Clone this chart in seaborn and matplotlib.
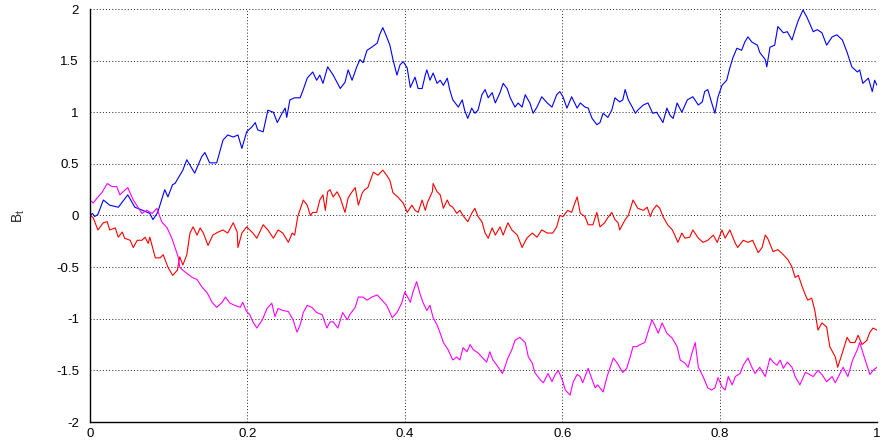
import matplotlib
matplotlib.use("Agg")
import matplotlib.pyplot as plt
import seaborn as sns
import pandas as pd

# ---- data ----
t_blue = [0, .003, .006, .010, .017, .025, .036, .048, .057, .067, .076, .080, .086, .095, .099, .105, .108,
          .118, .123, .133, .142, .146, .152, .161, .169, .175, .182, .188, .193, .199, .206, .210, .213, .220,
          .226, .233, .238, .244, .248, .250, .254, .260, .267, .271, .276, .283, .288, .292, .296, .302, .309,
          .318, .324, .328, .333, .339, .343, .347, .352, .358, .365, .368, .372, .377, .381, .385, .390, .394,
          .398, .403, .407, .413, .417, .422, .426, .428, .432, .436, .441, .445, .449, .454, .457, .461, .468,
          .473, .476, .480, .485, .489, .493, .498, .502, .506, .511, .515, .521, .525, .530, .534, .540, .544,
          .549, .553, .559, .563, .568, .574, .581, .587, .593, .597, .601, .606, .612, .619, .623, .629, .633,
          .638, .644, .648, .652, .658, .663, .667, .673, .677, .680, .684, .689, .693, .696, .703, .709, .715,
          .720, .724, .728, .733, .737, .741, .746, .752, .759, .766, .773, .778, .781, .785, .790, .794, .798,
          .803, .809, .813, .817, .822, .828, .832, .836, .841, .848, .851, .858, .860, .864, .870, .874, .881,
          .886, .892, .896, .900, .906, .911, .919, .924, .930, .936, .943, .949, .956, .962, .968, .975, .978,
          .982, .989, .994, .997, 1.0]
b_blue = [0.00, .02, -.01, .01, .15, .10, .08, .20, .08, .05, .02, -.04, .03, .25, .18, .30, .31,
          .44, .54, .41, .57, .61, .51, .51, .73, .78, .76, .78, .65, .81, .86, .90, .83, .81,
          1.02, 1.00, .90, .99, 1.04, .95, 1.12, 1.14, 1.14, 1.22, 1.33, 1.39, 1.31, 1.36, 1.28, 1.44, 1.36,
          1.23, 1.29, 1.41, 1.31, 1.44, 1.51, 1.48, 1.60, 1.63, 1.67, 1.75, 1.82, 1.73, 1.65, 1.51, 1.36, 1.46,
          1.49, 1.43, 1.24, 1.34, 1.23, 1.23, 1.36, 1.41, 1.31, 1.38, 1.28, 1.31, 1.26, 1.33, 1.22, 1.12, 1.05,
          1.12, 1.02, .94, 1.04, .99, 1.02, 1.17, 1.22, 1.14, 1.19, 1.09, 1.19, 1.28, 1.23, 1.14, 1.05, 1.09,
          1.05, 1.17, 1.09, .99, 1.05, 1.15, 1.09, 1.05, 1.17, 1.20, 1.15, 1.04, 1.15, 1.04, 1.09, 1.05, 1.04,
          .94, .88, .90, .99, .95, 1.02, 1.14, 1.10, 1.12, 1.22, 1.12, 1.05, .99, 1.02, 1.07, 1.09, .99,
          1.00, .95, .90, 1.04, .97, .94, 1.09, 1.00, 1.12, 1.15, 1.07, 1.10, 1.20, 1.22, 1.09, .99, 1.15,
          1.26, 1.31, 1.43, 1.53, 1.62, 1.60, 1.68, 1.73, 1.68, 1.65, 1.58, 1.51, 1.44, 1.63, 1.65, 1.83, 1.77,
          1.78, 1.70, 1.80, 1.89, 1.99, 1.92, 1.78, 1.80, 1.77, 1.65, 1.73, 1.75, 1.70, 1.58, 1.44, 1.39, 1.41,
          1.28, 1.33, 1.20, 1.31, 1.26]

t_red = [0, .004, .010, .017, .022, .025, .032, .036, .041, .044, .051, .055, .060, .066, .070, .074, .076,
         .083, .089, .093, .099, .105, .111, .114, .118, .123, .127, .131, .136, .140, .144, .150, .156, .163,
         .169, .175, .182, .187, .188, .193, .199, .203, .207, .212, .220, .226, .233, .239, .245, .252, .257,
         .260, .264, .271, .276, .280, .283, .288, .292, .296, .299, .302, .305, .309, .314, .318, .324, .328,
         .333, .337, .341, .346, .349, .353, .360, .366, .372, .377, .381, .385, .391, .398, .403, .409, .413,
         .417, .422, .426, .429, .435, .436, .441, .445, .449, .454, .457, .461, .466, .470, .474, .480, .485,
         .489, .493, .498, .502, .506, .511, .515, .521, .525, .531, .536, .543, .549, .555, .562, .568, .574,
         .581, .588, .593, .597, .601, .607, .612, .616, .619, .623, .629, .633, .639, .644, .648, .654, .658,
         .663, .667, .671, .673, .680, .684, .690, .696, .703, .708, .712, .715, .720, .724, .728, .734, .740,
         .743, .747, .752, .756, .762, .766, .773, .779, .785, .792, .797, .803, .807, .813, .820, .823, .830,
         .836, .842, .849, .854, .858, .861, .868, .874, .881, .887, .892, .896, .900, .905, .909, .912, .917,
         .921, .925, .930, .936, .940, .947, .950, .956, .962, .966, .972, .976, .981, .987, .991, .995, 1.0]
b_red = [0.00, -.02, -.14, -.07, -.06, -.14, -.12, -.21, -.16, -.22, -.24, -.31, -.24, -.24, -.21, -.27, -.21,
         -.41, -.41, -.38, -.50, -.58, -.53, -.40, -.48, -.38, -.17, -.11, -.19, -.12, -.17, -.29, -.19, -.16,
         -.14, -.17, -.07, -.16, -.31, -.17, -.11, -.14, -.17, -.22, -.09, -.14, -.22, -.14, -.17, -.26, -.17,
         -.19, -.01, .15, .10, .00, .03, .03, .15, .20, .05, .23, .25, .18, .23, .17, .03, .17,
         .23, .27, .10, .22, .25, .27, .42, .39, .44, .39, .34, .22, .18, .12, .03, .10, .05,
         .03, .15, .05, .13, .23, .31, .23, .20, .07, .15, .10, .08, .02, .05, .00, -.06, .02,
         .07, -.01, -.06, -.17, -.22, -.12, -.19, -.11, -.19, -.07, -.14, -.19, -.31, -.22, -.17, -.21, -.14,
         -.17, -.17, -.11, .00, -.01, .05, .03, .12, .18, .02, -.01, -.09, -.09, .03, -.11, -.07, -.02,
         .03, -.04, -.07, -.14, -.04, .00, .15, .07, .05, .08, -.01, .05, .10, .07, -.01, -.09, -.14,
         -.19, -.26, -.17, -.22, -.21, -.14, -.22, -.26, -.24, -.19, -.26, -.14, -.22, -.14, -.27, -.31, -.24,
         -.26, -.24, -.36, -.31, -.19, -.22, -.35, -.33, -.38, -.43, -.50, -.60, -.58, -.69, -.77, -.82, -.80,
         -.92, -1.11, -1.04, -1.08, -1.27, -1.37, -1.47, -1.33, -1.18, -1.23, -1.23, -1.16, -1.25, -1.21, -1.13, -1.09, -1.11]

t_mag = [0, .004, .009, .015, .022, .028, .034, .038, .042, .048, .055, .061, .066, .072, .079, .085, .091,
         .098, .104, .108, .112, .114, .118, .123, .130, .136, .142, .149, .155, .161, .168, .172, .178, .184,
         .191, .194, .199, .203, .207, .212, .219, .225, .231, .235, .239, .245, .252, .258, .263, .267, .271,
         .276, .282, .288, .295, .301, .305, .309, .315, .321, .327, .330, .337, .341, .347, .352, .358, .365,
         .371, .377, .384, .390, .396, .400, .407, .410, .415, .419, .423, .428, .432, .436, .441, .445, .449,
         .455, .461, .466, .470, .474, .479, .483, .487, .493, .499, .504, .508, .512, .517, .524, .527, .531,
         .536, .540, .546, .553, .557, .562, .565, .572, .576, .582, .587, .591, .595, .600, .604, .610, .614,
         .619, .623, .626, .633, .638, .642, .645, .652, .657, .661, .665, .670, .673, .677, .682, .686, .690,
         .695, .699, .705, .709, .714, .718, .722, .727, .733, .740, .746, .750, .756, .760, .765, .769, .773,
         .779, .785, .790, .794, .798, .803, .807, .811, .816, .820, .826, .830, .836, .841, .845, .851, .858,
         .864, .868, .873, .877, .881, .886, .892, .896, .902, .909, .912, .919, .925, .930, .936, .943, .947,
         .953, .957, .963, .969, .975, .978, .985, .991, .995, 1.0]
b_mag = [.15, .12, .17, .22, .31, .28, .28, .20, .23, .27, .15, .08, .02, .05, .02, .07, -.06,
         -.12, -.22, -.31, -.40, -.50, -.53, -.56, -.60, -.62, -.69, -.75, -.84, -.89, -.84, -.79, -.85, -.87,
         -.89, -.84, -.93, -.96, -1.03, -1.09, -1.01, -.90, -.85, -.98, -.90, -.92, -.93, -1.01, -1.13, -1.06, -.94,
         -.87, -.89, -.94, -.96, -1.09, -1.03, -1.03, -1.09, -.94, -1.01, -.96, -.89, -.79, -.79, -.82, -.79, -.77,
         -.82, -.87, -.99, -.94, -.85, -.74, -.84, -.75, -.64, -.75, -.84, -.92, -.87, -.99, -1.06, -1.14, -1.23,
         -1.30, -1.40, -1.37, -1.40, -1.28, -1.32, -1.25, -1.30, -1.33, -1.38, -1.42, -1.32, -1.40, -1.45, -1.53, -1.47, -1.38,
         -1.30, -1.21, -1.18, -1.23, -1.37, -1.43, -1.52, -1.59, -1.62, -1.53, -1.61, -1.54, -1.50, -1.59, -1.69, -1.74, -1.61,
         -1.54, -1.56, -1.62, -1.48, -1.59, -1.67, -1.64, -1.71, -1.56, -1.47, -1.38, -1.43, -1.47, -1.52, -1.48, -1.38, -1.27,
         -1.27, -1.25, -1.23, -1.13, -1.01, -1.07, -1.14, -1.04, -1.14, -1.19, -1.27, -1.40, -1.43, -1.47, -1.33, -1.23, -1.47,
         -1.56, -1.67, -1.69, -1.67, -1.57, -1.66, -1.69, -1.56, -1.64, -1.56, -1.53, -1.45, -1.38, -1.47, -1.53, -1.47, -1.56,
         -1.38, -1.42, -1.45, -1.40, -1.48, -1.42, -1.47, -1.56, -1.64, -1.52, -1.53, -1.56, -1.50, -1.54, -1.61, -1.56, -1.62,
         -1.53, -1.47, -1.56, -1.40, -1.30, -1.23, -1.40, -1.54, -1.50, -1.47]

x_ticks = [0, 0.2, 0.4, 0.6, 0.8, 1.0]
x_tick_labels = ["0", "0.2", "0.4", "0.6", "0.8", "1"]
y_ticks = [-2, -1.5, -1, -0.5, 0, 0.5, 1, 1.5, 2]
y_tick_labels = ["-2", "-1.5", "-1", "-0.5", "0", "0.5", "1", "1.5", "2"]
series_colors = {"blue": "#0000ff", "red": "#ff0000", "magenta": "#ff00ff"}

df = pd.concat([
    pd.DataFrame({"t": t_blue, "B": b_blue, "path": "blue"}),
    pd.DataFrame({"t": t_red, "B": b_red, "path": "red"}),
    pd.DataFrame({"t": t_mag, "B": b_mag, "path": "magenta"}),
], ignore_index=True)

sns.set_style("white")
plt.rcParams["font.family"] = ["Liberation Sans", "DejaVu Sans"]
plt.rcParams["mathtext.default"] = "regular"

fig = plt.figure(figsize=(8.8, 4.4), dpi=100)
ax = fig.add_axes([90 / 880, 18 / 440, 787 / 880, 413 / 440])

sns.lineplot(data=df, x="t", y="B", hue="path", palette=series_colors,
             estimator=None, sort=False, linewidth=0.8, legend=False, ax=ax, zorder=3)

ax.set_xlim(0, 1)
ax.set_ylim(-2, 2)
ax.set_xticks(x_ticks)
ax.set_xticklabels(x_tick_labels)
ax.set_yticks(y_ticks)
ax.set_yticklabels(y_tick_labels)
ax.tick_params(direction="in", length=5, width=0.8, colors="black", labelsize=9.5)
ax.tick_params(axis="x", pad=4)
ax.tick_params(axis="y", pad=8)

ax.grid(True, color="#222222", linestyle=(0, (1, 2.2)), linewidth=0.7)
ax.set_axisbelow(True)

for s in ["top", "right"]:
    ax.spines[s].set_visible(False)
for s in ["left", "bottom"]:
    ax.spines[s].set_color("black")
    ax.spines[s].set_linewidth(1.0)
    ax.spines[s].set_zorder(4)

ax.set_xlabel("")
ax.set_ylabel("B$_t$", fontsize=10)
ax.yaxis.set_label_coords(-0.080, 0.5)

fig.savefig("out.png", dpi=100)
